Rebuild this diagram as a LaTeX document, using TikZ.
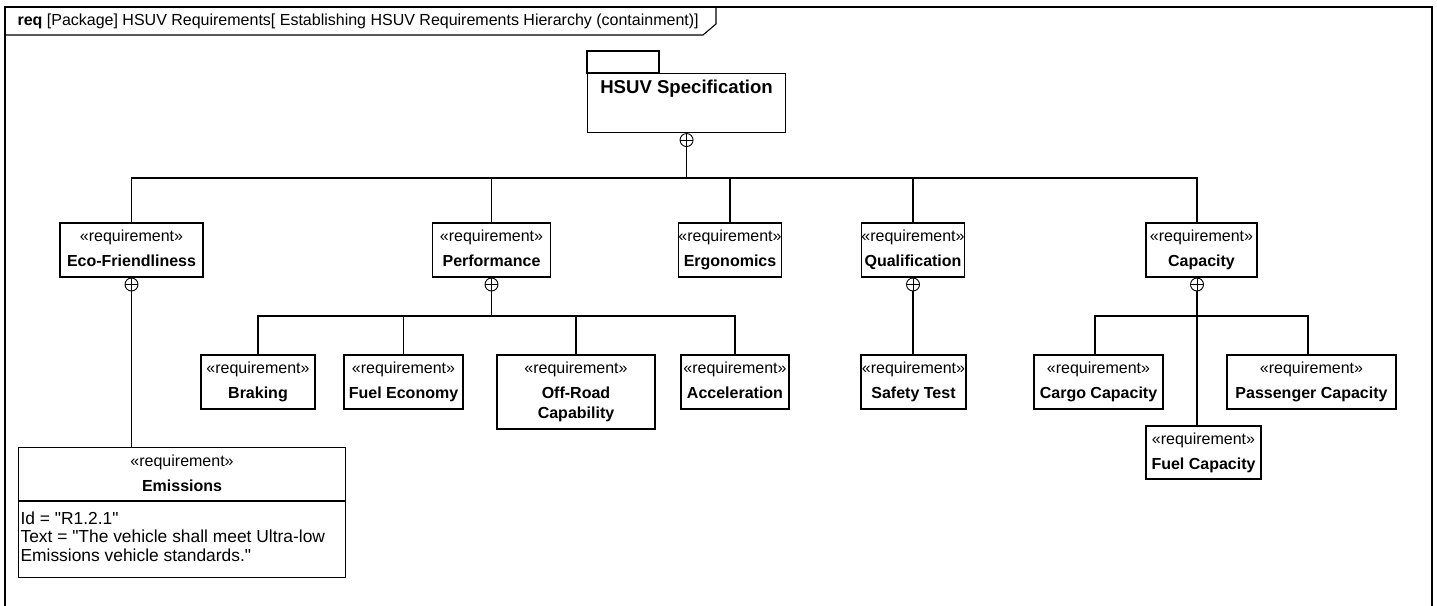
\documentclass[tikz,border=0pt]{standalone}
\usepackage{fontspec}
\setmainfont{Liberation Sans}[Ligatures=TeXOff]
\newcommand{\dpt}{\rule[-3.5pt]{0pt}{0pt}}
\begin{document}
\begin{tikzpicture}[x=1pt,y=-1pt,line width=1.1pt,
  every node/.style={font=\fontsize{16}{19}\selectfont},
  reqbox/.style={draw,rectangle,inner sep=0pt,align=center,minimum height=54,font=\fontsize{16}{25}\selectfont},
  cplus/.style={circle,draw,minimum size=13,inner sep=0pt,line width=0.9pt,
    path picture={\draw[line width=0.9pt] (path picture bounding box.west) -- (path picture bounding box.east);
                  \draw[line width=0.9pt] (path picture bounding box.north) -- (path picture bounding box.south);}},
  conn/.style={draw,line width=1.1pt}]
\useasboundingbox (0,0) rectangle (1437,605);
% frame
\draw (5,606) -- (5,7) -- (1432,7) -- (1432,606);
\draw (5,35) -- (703,35) -- (716,24) -- (716,7);
\node[anchor=west,inner sep=0pt] (hdr) at (17,21) {\textbf{req} [Package] HSUV Requirements[ Establishing HSUV Requirements Hierarchy (containment)]};
% package
\node[draw,minimum width=198,minimum height=59,anchor=north west,inner sep=0pt] (hsuv) at (587,73) {};
\draw (hsuv.north west) rectangle ++(72,-22);
\node[font=\fontsize{18.6}{22}\selectfont\bfseries] (hsuvt) at ([yshift=-15.5pt]hsuv.north) {HSUV Specification};
\node[cplus,anchor=north] (hsuvp) at (hsuv.south) {};
% level 1
\node[reqbox,minimum width=143] (eco) at (131.5,250) {«requirement»\\\textbf{Eco-Friendliness}\dpt};
\node[reqbox,minimum width=118] (perf) at (491.5,250) {«requirement»\\\textbf{Performance}\dpt};
\node[reqbox,minimum width=102] (ergo) at (730,250) {«requirement»\\\textbf{Ergonomics}\dpt};
\node[reqbox,minimum width=103] (qual) at (913,250) {«requirement»\\\textbf{Qualification}\dpt};
\node[reqbox,minimum width=111] (cap) at (1201.5,250) {«requirement»\\\textbf{Capacity}\dpt};
\node[cplus,anchor=north] (ecop) at (eco.south) {};
\node[cplus,anchor=north] (perfp) at (perf.south) {};
\node[cplus,anchor=north] (qualp) at (qual.south) {};
\node[cplus,anchor=north] (capp) at ([xshift=-4.5pt]cap.south) {};
\coordinate (bus1) at (0,178);
\coordinate (bus2) at (0,316);
% level 2
\node[reqbox,minimum width=114] (brak) at (258,382) {«requirement»\\\textbf{Braking}\dpt};
\node[reqbox,minimum width=119] (fuele) at (403.5,382) {«requirement»\\\textbf{Fuel Economy}\dpt};
\node[reqbox,minimum width=158,minimum height=74] (offr) at (576,392) {«requirement»\\\textbf{Off-Road}\\[-5pt]\textbf{Capability}\dpt};
\node[reqbox,minimum width=108] (accel) at (735,382) {«requirement»\\\textbf{Acceleration}\dpt};
\node[reqbox,minimum width=105] (safe) at (913.5,382) {«requirement»\\\textbf{Safety Test}\dpt};
\node[reqbox,minimum width=129] (cargo) at (1098.5,382) {«requirement»\\\textbf{Cargo Capacity}\dpt};
\node[reqbox,minimum width=169] (pass) at (1311.5,382) {«requirement»\\\textbf{Passenger Capacity}\dpt};
\node[reqbox,minimum width=115,minimum height=53] (fuelc) at (1203.5,452.5) {«requirement»\\\textbf{Fuel Capacity}\dpt};
% emissions
\node[draw,minimum width=327,minimum height=130,anchor=north west,inner sep=0pt] (emis) at (18,447) {};
\draw ([yshift=-54pt]emis.north west) -- ([yshift=-54pt]emis.north east);
\node (emst) at ([yshift=-15pt]emis.north) {«requirement»};
\node (emsn) at ([yshift=-38.5pt]emis.north) {\textbf{Emissions}};
\node[anchor=north west,align=left,inner sep=0pt,font=\fontsize{17.4}{18.2}\selectfont] (emsa) at ([xshift=2pt,yshift=-64.5pt]emis.north west) {Id = "R1.2.1"\\Text = "The vehicle shall meet Ultra-low\\Emissions vehicle standards."};
% connectors
\foreach \c in {eco,perf,ergo,qual} {
  \draw[conn] (hsuvp.south) -- (hsuvp.south |- bus1) -| (\c.north);
}
\draw[conn] (hsuvp.south) -- (hsuvp.south |- bus1) -| ([xshift=-4.5pt]cap.north);
\draw[conn] (ecop.south) -- (ecop.south |- emis.north);
\foreach \c in {brak,fuele,offr,accel} {
  \draw[conn] (perfp.south) -- (perfp.south |- bus2) -| (\c.north);
}
\draw[conn] (qualp.south) -- (qualp.south |- safe.north);
\draw[conn] (capp.south) -- (capp.south |- bus2) -| ([xshift=-3.5pt]cargo.north);
\draw[conn] (capp.south) -- (capp.south |- bus2) -| ([xshift=-3.5pt]pass.north);
\draw[conn] (capp.south) -- (capp.south |- fuelc.north);
\end{tikzpicture}
\end{document}
